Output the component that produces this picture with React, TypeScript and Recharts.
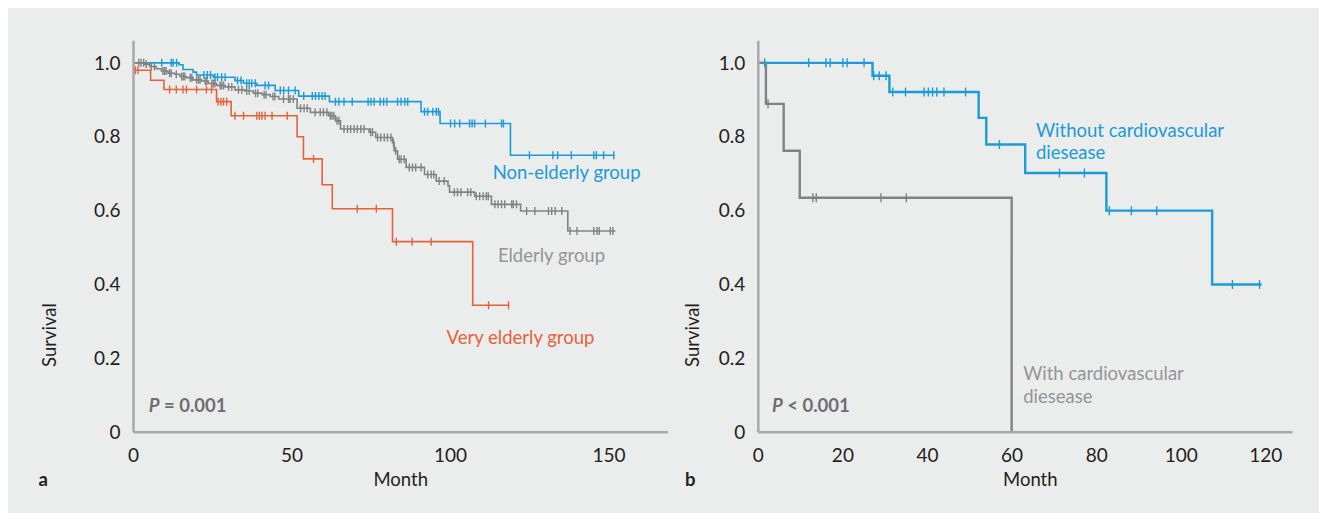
import { ComposedChart, Line, Scatter, XAxis, YAxis } from "recharts";

const BLUE = "#1b9bd7";
const GRAY = "#818285";
const ORANGE = "#e4633b";
const AXIS = "#a7a9ac";
const INK = "#231f20";
const LABEL_GRAY = "#939598";
const P_GRAY = "#6d6e71";
const BG = "#ebecec";
const FONT = "Lato, 'Liberation Sans', sans-serif";

// panel a: [month, survival] at each step
const nonElderlySteps = [
  [0, 1], [14.4, 0.995], [15.6, 0.982], [18.8, 0.975], [19.9, 0.967], [25.2, 0.961],
  [32, 0.952], [34.7, 0.945], [38.9, 0.939], [44.7, 0.925], [52.1, 0.91], [61.8, 0.895],
  [90.7, 0.868], [96.7, 0.836], [118.9, 0.75], [151.8, 0.75],
];
const nonElderlyCensored = [
  8.9, 11.9, 12.5, 13.6, 22.2, 23.3, 24.3, 25.7, 26.5, 27.8, 28.9, 32.8, 33.9, 35.7, 36.5,
  37.3, 38.4, 41.5, 42.6, 46.3, 47.4, 48.9, 51, 53.7, 56.4, 57.4, 58.5, 59.5, 60.4, 63.7,
  64.8, 66.4, 69, 74, 74.9, 75.9, 77.8, 78.9, 79.9, 83.3, 84.4, 85.6, 86.5, 91.8, 92.8, 94.4,
  95.5, 96.2, 100, 101.3, 102.9, 106, 106.8, 107.6, 111, 116.1, 116.7, 124.9, 132.3, 133.8,
  138.1, 145.2, 146, 148.3, 151.5,
];

const elderlySteps = [
  [0, 1], [3.5, 0.996], [5.1, 0.99], [7.2, 0.984], [8.8, 0.978], [10.9, 0.972], [13, 0.969],
  [14.6, 0.963], [16.7, 0.96], [18.8, 0.954], [21.5, 0.951], [23.6, 0.944], [26.2, 0.939],
  [28.9, 0.935], [32, 0.927], [35.2, 0.924], [37.8, 0.918], [40.5, 0.914], [43.1, 0.909],
  [45.8, 0.902], [51.6, 0.877], [55.8, 0.866], [61.6, 0.857], [63.7, 0.843], [65.3, 0.821],
  [74.3, 0.812], [76.4, 0.798], [81.7, 0.784], [82.2, 0.762], [83.3, 0.739], [86, 0.717],
  [91.8, 0.698], [95.5, 0.68], [99.2, 0.667], [99.7, 0.65], [107.6, 0.639], [112.9, 0.617],
  [122.1, 0.599], [137, 0.545], [152, 0.545],
];
const elderlyCensored = [
  1.7, 2.4, 3.2, 4.0, 5.6, 6.6, 9.3, 9.8, 10.3, 11.4, 11.9, 13.5, 15.2, 15.7, 16.2, 17.9,
  18.4, 19.9, 20.5, 21, 22.6, 23.1, 24.7, 25.2, 25.7, 27.3, 27.8, 28.4, 30, 31, 33.1, 34.2,
  35.7, 36.5, 38.5, 39.2, 41.2, 41.8, 44, 44.6, 47.3, 48.9, 49.4, 50.4, 52.7, 53.8, 54.8,
  57.3, 58.9, 59.9, 61, 62.1, 62.6, 63.2, 64.2, 64.8, 66.4, 67.5, 68.5, 69.6, 70.6, 71.7,
  72.7, 74.8, 75.4, 77, 78, 79.1, 80.1, 81.2, 82, 82.7, 83.8, 84.4, 85.4, 87, 88, 89, 90.7,
  92.8, 93.9, 94.7, 96.4, 98, 101.2, 102.2, 103.3, 105.4, 106.4, 108.1, 109.2, 110.3, 111.3,
  111.9, 114, 115, 116.1, 117.1, 119.3, 119.8, 120.8, 124, 126.6, 130.9, 131.9, 133, 135.1,
  137.7, 139.9, 145.2, 146.2, 146.9, 150.4, 151.2,
];

const veryElderlySteps = [
  [0, 0.98], [5.4, 0.953], [9.6, 0.928], [26.2, 0.895], [30.8, 0.857], [51.6, 0.8],
  [53.6, 0.74], [59.5, 0.67], [62.7, 0.605], [81.7, 0.516], [107, 0.344], [118.5, 0.344],
];
const veryElderlyCensored = [
  0.6, 1.4, 11.4, 13.5, 15.6, 16.7, 19.9, 23, 24.6, 26.7, 27.6, 28.4, 29.4, 32, 34.7, 38.9,
  39.7, 40.5, 41.5, 43.7, 48.5, 56.8, 70.6, 76.6, 82.9, 87.9, 93.9, 112, 118.3,
];

// panel b
const withoutCvdSteps = [
  [0, 1], [27, 0.965], [31, 0.921], [52.1, 0.851], [53.9, 0.779], [63.1, 0.702],
  [82.3, 0.6], [107.3, 0.4], [119, 0.4],
];
const withoutCvdCensored = [
  1.5, 11.9, 16, 17, 20, 21, 25, 27.3, 28.6, 30.2, 31.8, 34.8, 39.2, 40.2, 41.2, 42.2, 43.9,
  49, 57, 71.2, 77.1, 83, 88.2, 94.2, 112.1, 118.5,
];
const withCvdSteps = [[0, 1], [1.8, 0.889], [6, 0.762], [9.8, 0.635], [59.9, 0]];
const withCvdCensored = [2.3, 12.9, 13.7, 29, 35];

const survivalTicks = [0, 0.2, 0.4, 0.6, 0.8, 1.0];
const monthTicksA = [0, 50, 100, 150];
const monthTicksB = [0, 20, 40, 60, 80, 100, 120];

const toRows = (steps: number[][]) => steps.map(([t, s]) => ({ t, s }));
// a censored case sits on the curve at its time
const onCurve = (steps: number[][], times: number[]) =>
  times.map((t) => {
    let s = steps[0][1];
    for (const [st, sv] of steps) if (st <= t) s = sv;
    return { t, s };
  });

const tickShape = (color: string, half: number, w: number) => (p: any) =>
  <line x1={p.cx} x2={p.cx} y1={p.cy - half} y2={p.cy + half} stroke={color} strokeWidth={w} />;

const tickStyle = { fontSize: 19, fill: INK, fontFamily: FONT };
const fmtSurv = (v: number) => (v === 0 ? "0" : v.toFixed(1));

type Curve = { steps: number[][]; censored: number[]; color: string };

function KmPanel({ curves, width, yWidth, maxX, ticks, lineW, half }: {
  curves: Curve[]; width: number; yWidth: number; maxX: number; ticks: number[]; lineW: number; half: number;
}) {
  return (
    <ComposedChart width={width} height={470} margin={{ top: 32.7, right: 20, left: 0, bottom: 0 }}>
      <XAxis
        type="number" dataKey="t" domain={[0, maxX]} ticks={ticks} allowDataOverflow
        axisLine={{ stroke: AXIS, strokeWidth: 2.5 }} tickLine={false} tickSize={0} tickMargin={16}
        tick={tickStyle} height={45.7}
      />
      <YAxis
        type="number" dataKey="s" domain={[0, 1.06]} ticks={survivalTicks} tickFormatter={fmtSurv}
        axisLine={{ stroke: AXIS, strokeWidth: 2.5 }} tickLine={false} tickSize={0} tickMargin={13}
        tick={tickStyle} width={yWidth}
      />
      {curves.map((c, i) => (
        <Line
          key={"l" + i} data={toRows(c.steps)} dataKey="s" type="stepAfter" stroke={c.color}
          strokeWidth={lineW} dot={false} activeDot={false} isAnimationActive={false}
        />
      ))}
      {curves.map((c, i) => (
        <Scatter
          key={"c" + i} data={onCurve(c.steps, c.censored)} dataKey="s"
          shape={tickShape(c.color, half, 1.4)} isAnimationActive={false}
        />
      ))}
    </ComposedChart>
  );
}

export default function App() {
  const txt = { fontFamily: FONT, fontSize: 18.5 };
  return (
    <div style={{ position: "relative", width: 1319, height: 505, background: BG, overflow: "hidden" }}>
      <style>{"body{overflow:hidden}"}</style>
      <div style={{ position: "absolute", left: 0, top: 0 }}>
        <KmPanel
          width={680} yWidth={125.5} maxX={168.6} ticks={monthTicksA} lineW={1.6} half={4}
          curves={[
            { steps: nonElderlySteps, censored: nonElderlyCensored, color: BLUE },
            { steps: elderlySteps, censored: elderlyCensored, color: GRAY },
            { steps: veryElderlySteps, censored: veryElderlyCensored, color: ORANGE },
          ]}
        />
      </div>
      <div style={{ position: "absolute", left: 660, top: 0 }}>
        <KmPanel
          width={644.5} yWidth={90.3} maxX={126.3} ticks={monthTicksB} lineW={2.4} half={4.5}
          curves={[
            { steps: withoutCvdSteps, censored: withoutCvdCensored, color: BLUE },
            { steps: withCvdSteps, censored: withCvdCensored, color: GRAY },
          ]}
        />
      </div>
      <svg width={1319} height={505} style={{ position: "absolute", left: 0, top: 0, pointerEvents: "none" }}>
        <g style={txt}>
          <text x={484.7} y={171.3} fill={BLUE}>Non-elderly group</text>
          <text x={489.9} y={253.6} fill={LABEL_GRAY}>Elderly group</text>
          <text x={438.6} y={336.3} fill={ORANGE}>Very elderly group</text>
          <text x={140.7} y={404.3} fill={P_GRAY} fontWeight="bold">
            <tspan fontStyle="italic">P</tspan> = 0.001
          </text>
          <text x={392.7} y={478} fill={INK} textAnchor="middle">Month</text>
          <text x={30.5} y={478} fill={INK} fontWeight="bold">a</text>
          <text x={48.4} y={327} fill={INK} textAnchor="middle" transform="rotate(-90 48.4 327)">Survival</text>

          <text x={1028} y={128.7} fill={BLUE}>Without cardiovascular</text>
          <text x={1028} y={151.3} fill={BLUE}>diesease</text>
          <text x={1015.2} y={372} fill={LABEL_GRAY}>With cardiovascular</text>
          <text x={1015.2} y={394.6} fill={LABEL_GRAY}>diesease</text>
          <text x={764} y={404.3} fill={P_GRAY} fontWeight="bold">
            <tspan fontStyle="italic">P</tspan> &lt; 0.001
          </text>
          <text x={1022.3} y={478} fill={INK} textAnchor="middle">Month</text>
          <text x={677} y={478} fill={INK} fontWeight="bold">b</text>
          <text x={690.5} y={327} fill={INK} textAnchor="middle" transform="rotate(-90 690.5 327)">Survival</text>
        </g>
      </svg>
    </div>
  );
}
